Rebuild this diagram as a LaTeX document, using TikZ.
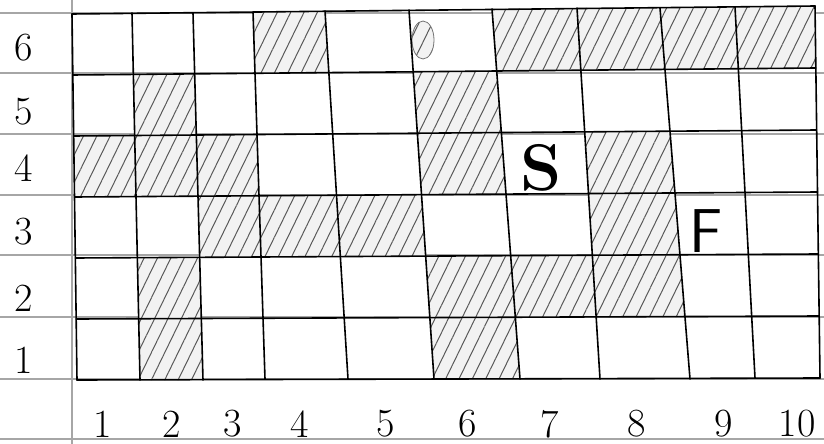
\documentclass[tikz,border=0pt]{standalone}
\usepackage{fontspec}
\usepackage{tikz}
\usetikzlibrary{calc,patterns.meta}

\tikzset{
  rule/.style={black!35, line width=1.2pt},
  gridline/.style={black, line width=1.6pt, line cap=round},
  hatch/.style={preaction={fill=black!5}, pattern={Lines[angle=64,distance=12pt,line width=1pt]}, pattern color=black!65},
  numlabel/.style={font=\fontsize{40}{40}\selectfont, inner sep=0pt},
}

\begin{document}
\begin{tikzpicture}[x=1pt,y=-1pt]
\useasboundingbox (0,0) rectangle (824,444);
\fill[white] (0,0) rectangle (824,444);
% paper
\foreach \y in {13,73,134,195,255,317,379,439} \draw[rule] (0,\y) -- (824,\y);
\draw[rule] (72,0) -- (72,444);
% column lines, top and bottom ends
\foreach \i/\xt/\yt/\xb/\yb in {0/72/14/77/380, 1/132/13/140/380, 2/193/13/203/380,
    3/253/12/265/379, 4/325/11/348/379, 5/409/10/434/379, 6/492/9/520/379,
    7/577/8/600/379, 8/660/8/690/379, 9/735/7/755/378, 10/815/6/820/378} {
  \coordinate (T\i) at (\xt,\yt);
  \coordinate (B\i) at (\xb,\yb);
}
% blocked cells
\foreach \c/\r in {4/6,7/6,8/6,9/6,10/6,2/5,6/5,1/4,2/4,3/4,6/4,8/4,
    3/3,4/3,5/3,8/3,2/2,6/2,7/2,8/2,2/1,6/1} {
  \pgfmathtruncatemacro\a{\c-1}
  \pgfmathsetmacro\ft{(6-\r)/6}
  \pgfmathsetmacro\fb{(7-\r)/6}
  \path[hatch] ($(T\a)!\ft!(B\a)$) -- ($(T\c)!\ft!(B\c)$) -- ($(T\c)!\fb!(B\c)$) -- ($(T\a)!\fb!(B\a)$) -- cycle;
}
\draw[black!55, line width=0.8pt, hatch] (423,40) ellipse [x radius=11pt, y radius=19pt];
% grid
\foreach \i in {0,...,10} \draw[gridline] (T\i) -- (B\i);
\foreach \j in {0,...,6} {
  \pgfmathsetmacro\f{\j/6}
  \draw[gridline] ($(T0)!\f!(B0)$) -- ($(T10)!\f!(B10)$);
}
% labels
\foreach \r/\y in {6/48,5/112,4/168,3/232,2/298,1/360} \node[numlabel] (row\r) at (24,\y) {\r};
\foreach \c/\x in {1/103,2/172,3/233,4/300,5/386,6/468,7/550,8/637,9/724,10/797} \node[numlabel] (col\c) at (\x,424) {\c};
\node[font=\fontsize{66}{66}\selectfont\bfseries, inner sep=0pt] (start) at (541,168) {S};
\node[font=\fontsize{62}{62}\selectfont\sffamily, inner sep=0pt] (goal) at (706,231) {F};
\end{tikzpicture}
\end{document}
